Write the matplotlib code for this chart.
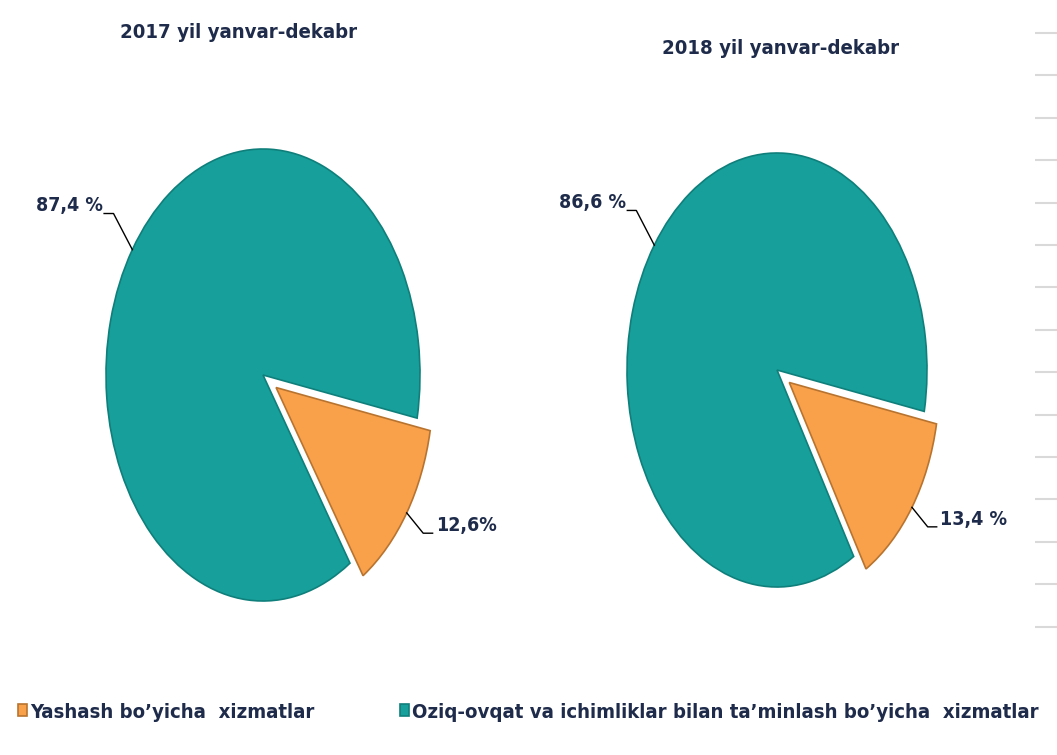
import numpy as np
import matplotlib
matplotlib.use("Agg")
import matplotlib.pyplot as plt
from matplotlib import font_manager as fm

# ---- data ----
categories = ["Yashash bo’yicha  xizmatlar",
              "Oziq-ovqat va ichimliklar bilan ta’minlash bo’yicha  xizmatlar"]
titles = ["2017 yil yanvar-dekabr", "2018 yil yanvar-dekabr"]
values_2017 = [12.6, 87.4]
values_2018 = [13.4, 86.6]
labels_2017 = ["12,6%", "87,4 %"]
labels_2018 = ["13,4 %", "86,6 %"]

colors = ["#f9a04b", "#17a09b"]
edge_colors = ["#b8742f", "#0f7f7b"]
text_color = "#1e2b4a"

# pick a condensed bold font if one is installed
cands = []
for f in fm.fontManager.ttflist:
    n = f.name.lower()
    st = str(f.stretch).lower()
    if ("narrow" in n or "condensed" in n or "condensed" in st) and \
            (str(f.weight) in ("700", "bold") or f.weight == 700):
        cands.append(f)
pref = ["liberation sans narrow", "dejavu sans condensed", "dejavu sans",
        "roboto condensed", "open sans condensed", "noto sans"]
cands.sort(key=lambda f: next((i for i, p in enumerate(pref)
                               if f.name.lower().startswith(p)), 99))
if cands:
    FP = fm.FontProperties(fname=cands[0].fname)
else:
    FP = fm.FontProperties(family="Liberation Sans", weight="bold")

fig = plt.figure(figsize=(10.57, 7.55), dpi=100)
W, H = 1057, 755


def fp(size):
    p = FP.copy()
    p.set_size(size)
    return p


def add_pie(cx, cy, rx, ry, values, labels, title, title_xy):
    lim = 1.2
    w = 2 * lim * rx
    h = 2 * lim * ry
    ax = fig.add_axes([(cx - w / 2) / W, (H - cy - h / 2) / H, w / W, h / H])
    wedges, _ = ax.pie(values, colors=colors, startangle=-11,
                       counterclock=False, explode=[0.1, 0],
                       wedgeprops=dict(linewidth=1.2))
    for wd, ec in zip(wedges, edge_colors):
        wd.set_edgecolor(ec)
    ax.set_aspect("auto")
    ax.set_xlim(-lim, lim)
    ax.set_ylim(-lim, lim)
    ax.axis("off")

    for i, (wd, lab) in enumerate(zip(wedges, labels)):
        ang = np.deg2rad((wd.theta1 + wd.theta2) / 2)
        cxw, cyw = wd.center
        ax_, ay_ = cxw + np.cos(ang), cyw + np.sin(ang)
        if i == 0:  # orange, right side
            ex, ey = ax_ + 0.105, ay_ - 0.09
            hx = ex + 0.06
            ax.plot([ax_, ex, hx], [ay_, ey, ey], color="black", lw=1,
                    clip_on=False)
            ax.text(hx + 0.02, ey + 0.035, lab, ha="left", va="center",
                    fontproperties=fp(14), color=text_color)
        else:  # teal, left side
            ex, ey = ax_ - 0.12, ay_ + 0.16
            hx = ex - 0.06
            ax.plot([ax_, ex, hx], [ay_, ey, ey], color="black", lw=1,
                    clip_on=False)
            ax.text(hx - 0.01, ey + 0.035, lab, ha="right", va="center",
                    fontproperties=fp(14), color=text_color)
    fig.text(title_xy[0] / W, 1 - title_xy[1] / H, title, ha="center",
             va="center", fontproperties=fp(14.6), color=text_color)
    return wedges


w1 = add_pie(263, 375, 157, 226, values_2017, labels_2017, titles[0], (239, 33))
w2 = add_pie(777, 370, 150, 217, values_2018, labels_2018, titles[1], (781, 48))

# legend
leg = fig.legend(w1, categories, loc="center left",
                 bbox_to_anchor=(18 / W, 1 - 712 / H), ncol=2, frameon=False,
                 handlelength=0.45, handleheight=0.55, handletextpad=0.15,
                 columnspacing=4.2, borderaxespad=0, borderpad=0,
                 prop=fp(14.6))
for t in leg.get_texts():
    t.set_color(text_color)

# faint gridline ticks at right edge (remnant of a neighbouring chart)
axr = fig.add_axes([1035 / W, 0, 22 / W, 1])
axr.hlines(np.arange(33, 630, 42.4), 0, 1, color="#d9d9d9", lw=1.5)
axr.set_xlim(0, 1)
axr.set_ylim(H, 0)
axr.axis("off")

fig.savefig("out.png", dpi=100)
